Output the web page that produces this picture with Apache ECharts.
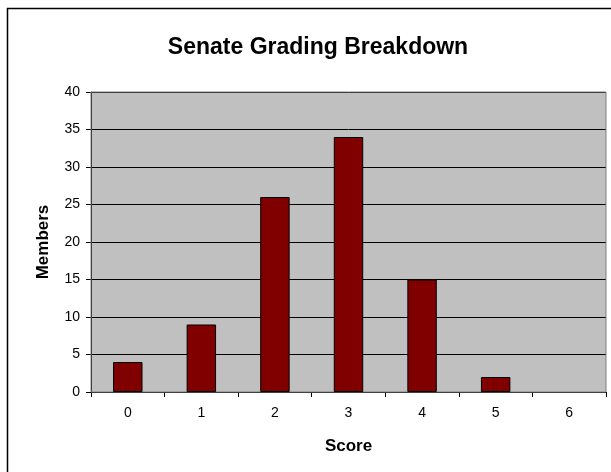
<!DOCTYPE html>
<html><head><meta charset="utf-8">
<script src="https://cdn.jsdelivr.net/npm/echarts@6/dist/echarts.min.js"></script>
<style>html,body{margin:0;padding:0;background:#fff}#c{width:611px;height:472px}</style>
</head><body><div id="c"></div>
<script>
const titleText = "Senate Grading Breakdown";
const categories = ["0","1","2","3","4","5","6"];
const members = [4, 9, 26, 34, 15, 2, 0];
const yTitle = "Members";
const xTitle = "Score";

const chart = echarts.init(document.getElementById('c'), null, {renderer:'canvas'});
const font = "Liberation Sans, Arial, sans-serif";
chart.setOption({
  animation: false,
  backgroundColor: '#fff',
  title: {
    text: titleText, left: 313, top: 31, textAlign: 'center',
    textStyle: {fontFamily: font, fontSize: 23, fontWeight: 'bold', color: '#000'}
  },
  graphic: [
    {type:'rect', shape:{x:7.5, y:8.5, width:700, height:600}, style:{fill:null, stroke:'#000', lineWidth:1.5}, z:-1},
    {type:'rect', shape:{x:91, y:92, width:515, height:300}, style:{fill:null, stroke:'#808080', lineWidth:1}, z:1}
  ],
  grid: {left: 91, top: 92, right: 5, bottom: 80, show: true, backgroundColor: '#c0c0c0', borderWidth: 0},
  xAxis: {
    type: 'category', data: categories,
    name: xTitle, nameLocation: 'middle', nameGap: 46,
    nameTextStyle: {fontFamily: font, fontSize: 17, fontWeight: 'bold', color: '#000'},
    axisLine: {lineStyle: {color: '#000', width: 1}},
    axisTick: {show: true, length: 5, lineStyle: {color: '#000'}},
    axisLabel: {fontFamily: font, fontSize: 14, color: '#000', margin: 14}
  },
  yAxis: {
    type: 'value', min: 0, max: 40, interval: 5,
    name: yTitle, nameLocation: 'middle', nameGap: 39,
    nameTextStyle: {fontFamily: font, fontSize: 17, fontWeight: 'bold', color: '#000'},
    axisLine: {show: true, lineStyle: {color: '#000', width: 1}},
    axisTick: {show: true, length: 5, lineStyle: {color: '#000'}},
    axisLabel: {fontFamily: font, fontSize: 14, color: '#000', margin: 11},
    splitLine: {show: true, lineStyle: {color: '#000', width: 1}}
  },
  series: [{
    type: 'bar',
    data: members.map(v => v === 0 ? {value: v, itemStyle: {borderWidth: 0}} : v),
    barWidth: '40%',
    itemStyle: {color: '#800000', borderColor: '#000', borderWidth: 1}
  }]
});
</script></body></html>
